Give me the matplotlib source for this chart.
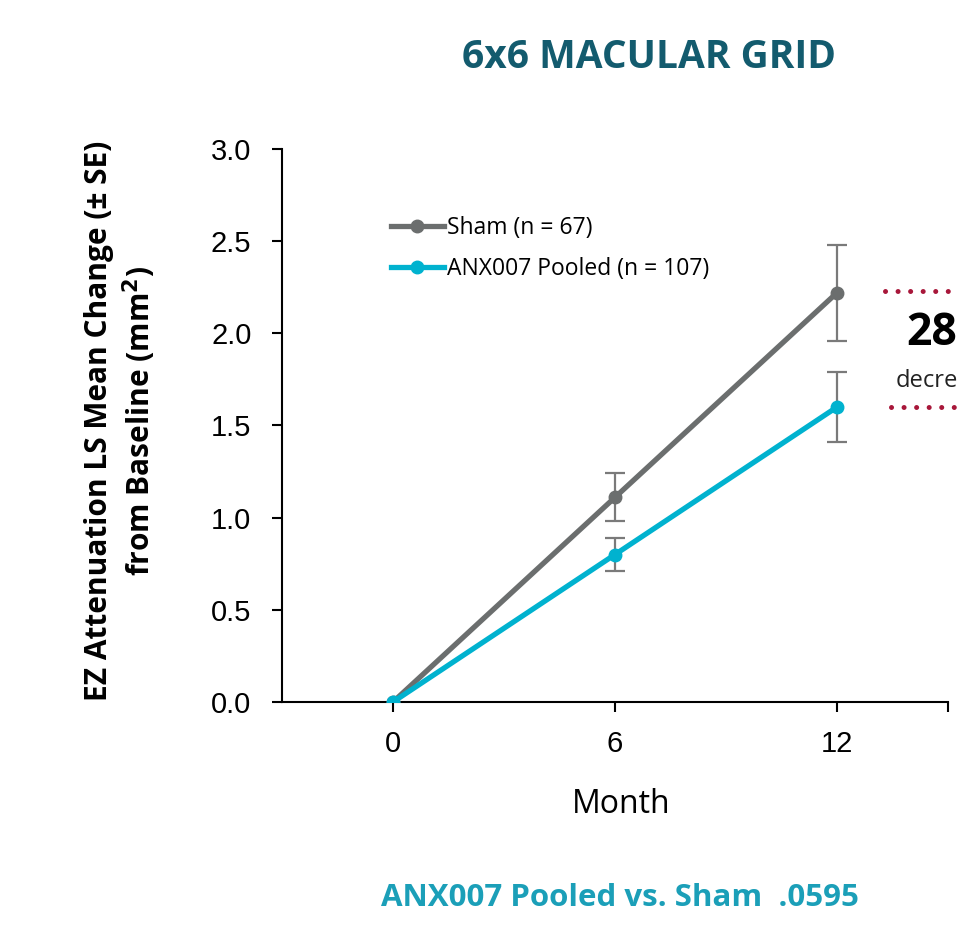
import numpy as np
import matplotlib

matplotlib.use('Agg')
import matplotlib.pyplot as plt

months = [0, 6, 12]
sham = [0.0, 1.11, 2.22]
sham_se = [0.0, 0.13, 0.26]
anx = [0.0, 0.80, 1.60]
anx_se = [0.0, 0.09, 0.19]
labels = ["Sham (n = 67)", "ANX007 Pooled (n = 107)"]

gray = "#6b6e6e"
cyan = "#00b2cf"
red = "#a8173a"
label_font = ['Open Sans', 'DejaVu Sans']

fig = plt.figure(figsize=(9.59, 9.27), dpi=100)
ax = fig.add_axes([0.294, 0.2427, 0.6945, 0.5966])

# Линии с ошибками
ax.errorbar(months[1:], sham[1:], yerr=sham_se[1:], fmt='none', ecolor="#7a7a7a",
            elinewidth=1.6, capsize=7, capthick=1.6, zorder=2)
ax.errorbar(months[1:], anx[1:], yerr=anx_se[1:], fmt='none', ecolor="#7a7a7a",
            elinewidth=1.6, capsize=7, capthick=1.6, zorder=2)
ax.plot(months, sham, '-o', color=gray, lw=3.8, ms=9, label=labels[0], zorder=3)
ax.plot(months, anx, '-o', color=cyan, lw=3.8, ms=9, label=labels[1], zorder=4)

ax.set_xlim(-3, 15)
ax.set_ylim(0, 3.0)
ax.set_yticks(np.arange(0, 3.01, 0.5))
ax.set_yticklabels([f"{v:.1f}" for v in np.arange(0, 3.01, 0.5)])
ax.set_xticks([0, 6, 12, 15])
ax.set_xticklabels(["0", "6", "12", ""])

for s in ["top", "right"]:
    ax.spines[s].set_visible(False)
for s in ["left", "bottom"]:
    ax.spines[s].set_linewidth(1.5)
ax.tick_params(axis='both', direction='out', length=7, width=1.5, labelsize=21,
               labelfontfamily='Liberation Sans')
ax.tick_params(axis='x', pad=13)
ax.tick_params(axis='y', pad=15)

ax.set_xlabel("Month", fontsize=23, family=label_font, labelpad=18)
ax.xaxis.set_label_coords(0.51, -0.155)
fig.text(0.126, 0.546, "EZ Attenuation LS Mean Change (± SE)\nfrom Baseline (mm$^{\\mathbf{2}}$)",
         rotation=90, ha='center', va='center', fontsize=21.5, fontweight='bold',
         family=label_font, linespacing=1.2)

leg = ax.legend(loc='upper left', bbox_to_anchor=(0.15, 0.895), frameon=False,
                prop={'family': label_font, 'size': 16.5},
                handlelength=2.3, handletextpad=0.15, labelspacing=0.75, borderaxespad=0)

fig.text(0.677, 0.938, "6x6 MACULAR GRID", ha='center', va='center', fontsize=28,
         fontweight='bold', color="#135b6e", family=label_font)
fig.text(0.646, 0.031, "ANX007 Pooled vs. Sham  .0595", ha='center', va='center',
         fontsize=22.5, fontweight='bold', color="#1b9fb8", family=label_font)

# Аннотация справа
ax.plot([13.3, 15.9], [sham[-1] + 0.01, sham[-1] + 0.01], color=red, lw=3.6,
        linestyle=(0, (0.01, 2.5)), dash_capstyle='round', clip_on=False)
ax.plot([13.45, 15.9], [anx[-1], anx[-1]], color=red, lw=3.6,
        linestyle=(0, (0.01, 2.5)), dash_capstyle='round', clip_on=False)
fig.text(906 / 959, 1 - 333 / 927, "28", ha='left', va='center', fontsize=32,
         fontweight='bold', color='black', family=label_font)
fig.text(896 / 959, 1 - 381 / 927, "decre", ha='left', va='center', fontsize=17,
         color='#222222', family=label_font)

fig.savefig("out.png", dpi=100)
